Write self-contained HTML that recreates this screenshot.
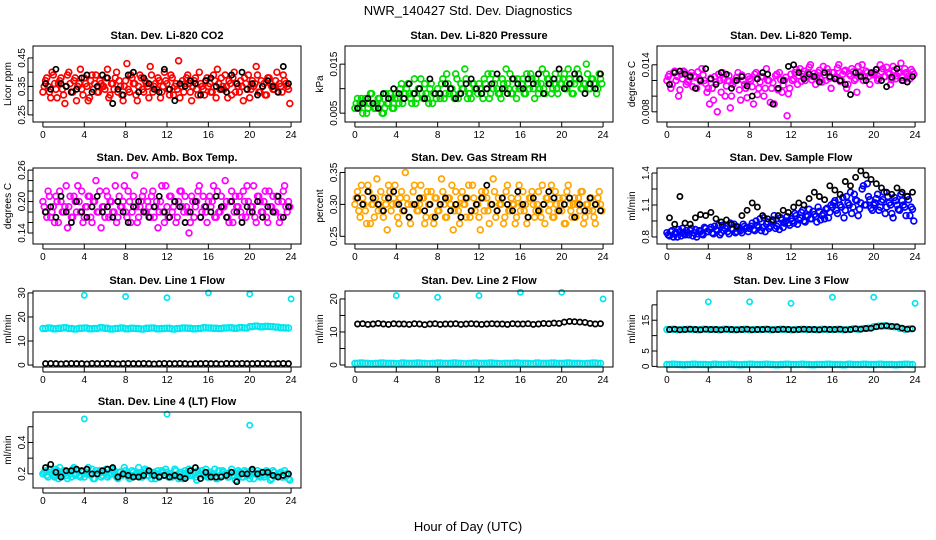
<!DOCTYPE html>
<html><head><meta charset="utf-8">
<style>
body{margin:0;background:#fff;}
svg{display:block;font-family:"Liberation Sans",Arial,sans-serif;}
</style></head>
<body>
<svg id="chart" width="936" height="540" viewBox="0 0 936 540">
<text x="468" y="15" text-anchor="middle" font-size="13">NWR_140427  Std. Dev. Diagnostics</text>
<text x="468" y="531" text-anchor="middle" font-size="13">Hour of Day (UTC)</text>
</svg>
<script>
const xTicks=[0,4,8,12,16,20,24];
const co2Red=[.35,.38,.33,.40,.36,.31,.37,.34,.29,.39,.36,.33,.38,.35,.41,.32,.36,.30,.37,.34,.39,.33,.36,.35,.38,.31,.36,.34,.40,.37,.32,.35,.43,.33,.38,.36,.30,.39,.34,.37,.35,.42,.33,.36,.38,.31,.35,.37,.34,.39,.32,.36,.44,.35,.33,.38,.36,.30,.37,.34,.40,.35,.32,.38,.36,.33,.37,.41,.34,.35,.39,.31,.36,.38,.33,.35,.37,.30,.36,.39,.34,.35,.42,.33,.37,.36,.32,.38,.35,.34,.40,.36,.33,.37,.35,.29];
const co2Red2=[.33,.37,.35,.31,.39,.34,.36,.38,.32,.35,.40,.33,.37,.30,.36,.34,.38,.35,.31,.39,.36,.33,.37,.35,.34,.41,.32,.36,.38,.33,.35,.30,.37,.34,.39,.36,.32,.35,.38,.33,.36,.31,.39,.35,.34,.37,.33,.40,.36,.32,.38,.35,.34,.31,.37,.36,.39,.33,.35,.38,.32,.36,.34,.37,.35,.33,.39,.31,.36,.38,.34,.35,.37,.32,.40,.36,.33,.35,.38,.34,.31,.37,.36,.39,.33,.35,.32,.38,.36,.34,.37,.33,.35,.39,.36,.34];
const co2Black=[.36,.34,.41,.36,.35,.33,.34,.38,.39,.33,.35,.39,.38,.29,.34,.32,.39,.40,.33,.38,.36,.34,.33,.41,.34,.30,.36,.35,.37,.36,.32,.37,.38,.35,.34,.33,.39,.36,.40,.34,.36,.32,.35,.37,.35,.33,.42,.36];
const presGreen=[.007,.006,.008,.007,.005,.007,.009,.006,.007,.008,.005,.006,.007,.009,.006,.008,.008,.010,.007,.009,.011,.008,.009,.007,.010,.012,.008,.009,.007,.011,.009,.008,.009,.011,.008,.013,.009,.010,.008,.012,.009,.010,.014,.008,.009,.011,.010,.009,.010,.008,.011,.013,.009,.010,.012,.009,.008,.011,.014,.010,.009,.012,.008,.010,.011,.009,.013,.010,.012,.008,.011,.010,.014,.009,.012,.011,.010,.013,.009,.011,.012,.010,.014,.011,.009,.012,.013,.010,.011,.015,.010,.012,.011,.009,.013,.011];
const presGreen2=[.006,.008,.007,.005,.008,.006,.009,.007,.006,.008,.007,.005,.009,.007,.008,.006,.009,.007,.011,.008,.010,.009,.007,.012,.008,.010,.009,.011,.008,.010,.007,.009,.010,.008,.012,.009,.011,.010,.009,.013,.008,.011,.010,.012,.009,.008,.011,.010,.011,.009,.012,.010,.008,.013,.011,.010,.009,.012,.010,.011,.013,.009,.010,.012,.010,.012,.009,.011,.013,.010,.012,.009,.011,.010,.013,.012,.009,.011,.010,.012,.011,.013,.010,.012,.009,.011,.014,.012,.010,.011,.013,.010,.012,.011,.010,.012];
const presBlack=[.006,.007,.008,.007,.006,.009,.008,.010,.009,.008,.011,.009,.010,.008,.012,.009,.009,.011,.010,.008,.009,.011,.012,.010,.009,.010,.011,.013,.010,.009,.012,.011,.010,.012,.011,.013,.009,.011,.012,.014,.010,.011,.013,.012,.009,.011,.010,.013];
const tempMag=[.0125,.011,.013,.012,.010,.0128,.0132,.0115,.012,.013,.0126,.011,.0122,.0135,.012,.0105,.009,.011,.0125,.008,.012,.013,.010,.012,.0085,.0115,.012,.013,.0095,.012,.011,.0125,.012,.009,.013,.011,.0125,.010,.0135,.012,.011,.009,.0128,.013,.0105,.012,.0075,.011,.012,.013,.0115,.0135,.0128,.012,.013,.014,.0125,.0115,.013,.0122,.0138,.012,.013,.011,.013,.0125,.014,.012,.0132,.011,.0128,.0135,.012,.0105,.013,.014,.0125,.013,.0115,.0128,.013,.012,.014,.0135,.0125,.013,.0115,.0138,.0122,.013,.0142,.012,.013,.0126,.0134,.0128];
const tempMag2=[.0120,.0128,.0115,.0132,.0125,.0108,.0122,.0130,.0118,.0126,.0112,.0124,.0131,.0119,.0127,.0116,.0110,.0123,.0095,.0118,.0128,.0105,.0121,.0113,.0126,.0100,.0119,.0124,.0108,.0127,.0115,.0098,.0122,.0112,.0128,.0102,.0118,.0125,.0110,.0120,.0092,.0117,.0126,.0108,.0121,.0114,.0124,.0103,.0128,.0122,.0134,.0126,.0119,.0132,.0125,.0137,.0121,.0129,.0124,.0133,.0118,.0127,.0135,.0123,.0130,.0124,.0136,.0119,.0128,.0133,.0115,.0126,.0131,.0122,.0138,.0127,.0120,.0132,.0125,.0129,.0127,.0134,.0122,.0131,.0125,.0137,.0128,.0121,.0133,.0126,.0130,.0124,.0135,.0128,.0122,.0131];
const tempBlack=[.0115,.013,.0132,.0128,.0125,.011,.012,.0135,.0122,.0115,.013,.0128,.011,.012,.0125,.0113,.010,.0122,.013,.0128,.009,.011,.012,.0138,.014,.013,.0122,.0128,.0125,.0118,.013,.0125,.0122,.012,.0115,.0102,.013,.0125,.012,.013,.0134,.012,.0112,.0124,.0135,.012,.0118,.0125];
const ambMag=[.19,.17,.21,.18,.16,.20,.22,.18,.19,.15,.21,.17,.20,.23,.18,.16,.19,.21,.17,.20,.24,.18,.15,.19,.22,.17,.20,.18,.16,.21,.19,.23,.17,.20,.18,.25,.16,.19,.21,.18,.20,.17,.22,.19,.15,.20,.18,.23,.17,.21,.19,.16,.20,.22,.18,.19,.14,.21,.17,.20,.23,.18,.19,.16,.21,.20,.17,.22,.18,.19,.24,.17,.20,.16,.21,.19,.18,.22,.17,.20,.19,.23,.16,.21,.18,.20,.17,.22,.19,.18,.21,.16,.20,.23,.18,.19];
const ambMag2=[.20,.18,.22,.17,.19,.21,.16,.20,.18,.23,.19,.17,.21,.18,.20,.22,.17,.19,.21,.16,.20,.18,.22,.19,.17,.21,.20,.18,.23,.17,.19,.20,.18,.22,.16,.21,.19,.17,.20,.22,.18,.19,.21,.17,.20,.18,.23,.16,.19,.21,.18,.20,.17,.22,.19,.21,.18,.16,.20,.19,.22,.17,.21,.18,.20,.19,.23,.17,.18,.21,.19,.20,.16,.22,.18,.19,.21,.17,.20,.23,.18,.19,.17,.21,.20,.18,.22,.16,.19,.21,.18,.20,.17,.22,.19,.20];
const ambBlack=[.18,.19,.17,.21,.18,.16,.20,.18,.17,.19,.21,.18,.19,.17,.20,.18,.16,.19,.20,.18,.17,.19,.21,.18,.17,.20,.19,.16,.18,.20,.17,.19,.18,.21,.19,.17,.20,.18,.16,.19,.18,.20,.17,.19,.18,.21,.17,.19];
const rhOrange=[.31,.29,.33,.30,.27,.32,.30,.28,.34,.30,.29,.31,.26,.32,.30,.33,.28,.31,.29,.35,.30,.27,.32,.30,.29,.33,.31,.28,.30,.32,.27,.31,.29,.34,.30,.28,.31,.33,.29,.30,.27,.32,.30,.31,.28,.33,.29,.30,.26,.31,.32,.29,.30,.34,.28,.31,.30,.27,.32,.29,.31,.30,.28,.33,.30,.29,.27,.31,.32,.28,.30,.29,.33,.27,.31,.30,.28,.32,.29,.30,.31,.27,.33,.29,.30,.28,.31,.32,.27,.30,.29,.31,.28,.30,.32,.29];
const rhOrange2=[.30,.32,.28,.31,.29,.33,.27,.30,.31,.29,.32,.28,.30,.33,.29,.31,.30,.27,.32,.29,.31,.28,.30,.33,.29,.30,.31,.27,.32,.30,.28,.31,.29,.30,.32,.28,.31,.30,.26,.32,.29,.31,.30,.28,.33,.29,.31,.30,.28,.32,.29,.31,.27,.30,.32,.29,.30,.31,.28,.33,.29,.30,.27,.31,.29,.32,.30,.28,.31,.30,.29,.32,.28,.30,.31,.29,.33,.28,.30,.31,.29,.27,.32,.30,.28,.31,.30,.29,.32,.28,.30,.31,.29,.27,.31,.30];
const rhBlack=[.31,.30,.32,.31,.30,.29,.31,.32,.30,.29,.28,.30,.31,.29,.30,.28,.30,.31,.29,.30,.28,.31,.29,.30,.31,.33,.30,.29,.31,.30,.29,.32,.30,.28,.31,.29,.30,.32,.31,.29,.30,.31,.28,.30,.29,.31,.30,.29];
const flowBlue=[.82,.85,.80,.84,.87,.81,.83,.86,.82,.88,.84,.80,.86,.83,.89,.85,.87,.84,.90,.86,.82,.91,.88,.85,.93,.87,.84,.89,.86,.92,.88,.85,.90,.87,.95,.89,.86,.98,.92,.88,.94,1.0,.90,.87,.96,.93,.99,.91,.95,1.02,.92,.98,1.05,.94,1.0,.97,1.04,.99,1.08,.96,1.02,1.06,.98,1.1,1.12,1.05,1.15,1.08,.98,1.18,1.1,1.02,1.2,1.14,1.06,1.25,1.1,1.3,1.15,1.05,1.12,1.2,1.08,1.15,1.02,1.18,1.1,.98,1.14,1.06,1.2,1.1,1.0,1.15,1.08,.95];
const flowBlue2=[.84,.81,.86,.83,.80,.85,.88,.82,.84,.86,.81,.87,.83,.85,.82,.88,.85,.89,.83,.87,.91,.84,.86,.90,.83,.88,.92,.85,.87,.84,.90,.89,.88,.93,.86,.91,.97,.89,.85,.94,.90,.96,.88,.92,.98,.89,.95,.93,.97,.93,1.0,.96,1.03,.95,.99,1.06,.97,1.01,.94,1.04,1.0,.97,1.07,1.03,1.08,1.14,1.02,1.1,1.17,1.05,1.12,1.22,1.08,1.15,1.0,1.12,1.28,1.1,1.18,1.07,1.1,1.16,1.05,1.13,1.22,1.08,1.12,1.02,1.17,1.1,1.05,1.14,1.08,1.18,1.0,1.06];
const flowBlack=[.98,.92,1.18,.93,.92,.98,1.01,1.0,1.03,.97,.94,.96,.92,.90,1.0,1.05,1.12,1.08,1.0,.97,.96,1.0,1.05,1.03,1.08,1.12,1.1,1.16,1.22,1.18,1.15,1.28,1.24,1.2,1.32,1.28,1.36,1.42,1.38,1.34,1.3,1.26,1.22,1.2,1.26,1.22,1.18,1.22];
const line1Cyan=[15.2,15.4,15.1,15.3,15.5,15.2,15.0,15.3,15.4,15.1,15.2,15.5,15.3,15.0,15.2,15.4,15.1,15.3,15.2,15.0,15.3,15.4,15.1,15.2,15.3,15.0,15.2,15.4,15.3,15.1,15.2,15.5,15.4,15.3,15.2,15.4,15.5,15.3,15.6,15.4,16.0,16.2,15.9,16.1,16.0,15.8,15.5,15.4];
const line1Black=[0.6,0.7,0.6,0.5,0.6,0.7,0.6,0.6,0.5,0.7,0.6,0.6,0.7,0.6,0.5,0.6,0.7,0.6,0.6,0.7,0.6,0.5,0.6,0.7,0.6,0.6,0.7,0.6,0.5,0.6,0.6,0.7,0.6,0.6,0.5,0.7,0.6,0.6,0.7,0.6,0.6,0.7,0.6,0.6,0.5,0.6,0.7,0.6];
const line1OutX=[4,8,12,16,20,24];
const line1OutY=[29,28.5,28,30,29.5,27.5];
const line2Black=[12.4,12.5,12.3,12.4,12.6,12.4,12.3,12.5,12.4,12.4,12.3,12.5,12.4,12.2,12.4,12.5,12.3,12.4,12.4,12.5,12.3,12.4,12.5,12.4,12.3,12.4,12.5,12.4,12.4,12.3,12.5,12.4,12.4,12.5,12.3,12.4,12.6,12.5,12.7,12.6,13.0,13.2,13.1,13.0,12.9,12.6,12.4,12.5];
const line2Cyan=[0.5,0.6,0.5,0.4,0.5,0.6,0.5,0.5,0.4,0.6,0.5,0.5,0.6,0.5,0.4,0.5,0.6,0.5,0.5,0.6,0.5,0.4,0.5,0.6,0.5,0.5,0.6,0.5,0.4,0.5,0.5,0.6,0.5,0.5,0.4,0.6,0.5,0.5,0.6,0.5,0.5,0.6,0.5,0.5,0.4,0.5,0.6,0.5];
const line2OutY=[21,20.5,21,22,22,20];
const line3Black=[12.0,12.1,11.9,12.0,12.1,12.0,11.9,12.1,12.0,12.0,11.9,12.1,12.0,11.9,12.0,12.1,11.9,12.0,12.0,12.1,11.9,12.0,12.1,12.0,11.9,12.0,12.1,12.0,12.0,11.9,12.1,12.0,12.0,12.1,11.9,12.0,12.2,12.1,12.3,12.4,12.9,13.1,13.2,13.0,12.9,12.4,12.1,12.2];
const line3Cyan=[0.6,0.7,0.6,0.5,0.6,0.7,0.6,0.6,0.5,0.7,0.6,0.6,0.7,0.6,0.5,0.6,0.7,0.6,0.6,0.7,0.6,0.5,0.6,0.7,0.6,0.6,0.7,0.6,0.5,0.6,0.6,0.7,0.6,0.6,0.5,0.7,0.6,0.6,0.7,0.6,0.6,0.7,0.6,0.6,0.5,0.6,0.7,0.6];
const line3OutY=[21,21,20.5,22.5,22.5,20.5];
const line4Cyan=[.21,.19,.23,.20,.18,.22,.24,.19,.21,.17,.20,.23,.19,.22,.18,.21,.20,.24,.19,.17,.22,.20,.18,.21,.23,.19,.20,.22,.18,.21,.19,.24,.20,.17,.22,.19,.21,.20,.18,.23,.19,.21,.20,.17,.22,.19,.21,.23,.18,.20,.19,.22,.17,.21,.20,.18,.23,.19,.21,.16,.20,.22,.19,.18,.21,.20,.23,.17,.19,.22,.20,.18,.21,.19,.16,.22,.20,.18,.21,.19,.22,.17,.20,.19,.21,.18,.22,.20,.17,.21,.19,.20,.18,.22,.19,.16];
const line4Cyan2=[.20,.22,.18,.21,.19,.23,.17,.20,.22,.19,.21,.18,.24,.20,.19,.22,.18,.21,.20,.23,.17,.20,.22,.19,.21,.18,.20,.23,.19,.17,.21,.20,.22,.18,.19,.21,.20,.24,.18,.20,.22,.19,.17,.21,.20,.18,.22,.19,.21,.20,.18,.23,.19,.20,.17,.22,.21,.19,.20,.18,.22,.20,.19,.23,.18,.21,.20,.17,.22,.19,.21,.20,.18,.23,.19,.20,.21,.18,.22,.19,.17,.21,.20,.22,.18,.19,.21,.20,.16,.22,.19,.20,.21,.18,.20,.17];
const line4Black=[.24,.26,.21,.18,.22,.22,.23,.22,.23,.20,.20,.22,.23,.24,.18,.20,.19,.18,.18,.19,.22,.19,.18,.19,.18,.19,.18,.17,.22,.24,.17,.21,.18,.18,.18,.19,.21,.15,.20,.20,.23,.20,.21,.21,.19,.18,.19,.20];
const line4OutX=[4,12,20];
const line4OutY=[0.55,0.58,0.51];

const NS="http://www.w3.org/2000/svg";
const svg=document.getElementById('chart');
function mk(tag,at,parent){const e=document.createElementNS(NS,tag);for(const k in at)e.setAttribute(k,at[k]);(parent||svg).appendChild(e);return e;}
const colL=[33,345,657],rowT=[46,168,291,412],W=268,H=76;
const BLACK='#000',CY='#00e5ee';
const panels=[
 {t:'Stan. Dev. Li-820 CO2',yl:'Licor ppm',c:0,r:0,ylim:[.225,.492],ticks:[.25,.30,.35,.40,.45],labs:['0.25','','0.35','','0.45'],ser:[[co2Red,'#ff0000',0],[co2Red2,'#ff0000',1],[co2Black,BLACK,0]]},
 {t:'Stan. Dev. Li-820 Pressure',yl:'kPa',c:1,r:0,ylim:[.0032,.0187],ticks:[.005,.010,.015],labs:['0.005','','0.015'],ser:[[presGreen,'#00dd00',0],[presGreen2,'#00dd00',1],[presBlack,BLACK,0]]},
 {t:'Stan. Dev. Li-820 Temp.',yl:'degrees C',c:2,r:0,ylim:[.0067,.0164],ticks:[.008,.010,.012,.014],labs:['0.008','','','0.014'],ser:[[tempMag,'#ff00ff',0],[tempMag2,'#ff00ff',1],[tempBlack,BLACK,0]]},
 {t:'Stan. Dev. Amb. Box Temp.',yl:'degrees C',c:0,r:1,ylim:[.119,.264],ticks:[.14,.16,.18,.20,.22,.24,.26],labs:['0.14','','','0.20','','','0.26'],ser:[[ambMag,'#ff00ff',0],[ambMag2,'#ff00ff',1],[ambBlack,BLACK,0]]},
 {t:'Stan. Dev. Gas Stream RH',yl:'percent',c:1,r:1,ylim:[.238,.357],ticks:[.25,.30,.35],labs:['0.25','0.30','0.35'],ser:[[rhOrange,'#ffa500',0],[rhOrange2,'#ffa500',1],[rhBlack,BLACK,0]]},
 {t:'Stan. Dev. Sample Flow',yl:'ml/min',c:2,r:1,ylim:[.734,1.447],ticks:[.8,.95,1.1,1.25,1.4],labs:['0.8','','1.1','','1.4'],ser:[[flowBlue,'#0000ff',0],[flowBlue2,'#0000ff',1],[flowBlack,BLACK,0]]},
 {t:'Stan. Dev. Line 1 Flow',yl:'ml/min',c:0,r:2,ylim:[-.8,30.8],ticks:[0,10,20,30],labs:['0','10','20','30'],ser:[[line1Cyan,CY,0],[line1Cyan,CY,1],[line1Black,BLACK,0]],out:[line1OutX,line1OutY]},
 {t:'Stan. Dev. Line 2 Flow',yl:'ml/min',c:1,r:2,ylim:[-.6,22.4],ticks:[0,5,10,15,20],labs:['0','','10','','20'],ser:[[line2Cyan,CY,0],[line2Cyan,CY,1],[line2Black,BLACK,0]],out:[line1OutX,line2OutY]},
 {t:'Stan. Dev. Line 3 Flow',yl:'ml/min',c:2,r:2,ylim:[-.2,24.5],ticks:[0,5,10,15,20],labs:['0','5','','15',''],ser:[[line3Black,CY,1],[line3Cyan,CY,0],[line3Cyan,CY,1],[line3Black,BLACK,0]],out:[line1OutX,line3OutY]},
 {t:'Stan. Dev. Line 4 (LT) Flow',yl:'ml/min',c:0,r:3,ylim:[.11,.594],ticks:[.2,.3,.4,.5],labs:['0.2','','0.4',''],ser:[[line4Cyan,CY,0],[line4Cyan2,CY,1],[line4Black,BLACK,0]],out:[line4OutX,line4OutY]}
];
panels.forEach((p,pi)=>{
 const L=colL[p.c],T=rowT[p.r];
 const g=mk('g',{});
 
 
 const xs=h=>L+(h+0.96)/25.92*W;
 const ys=v=>T+H-(v-p.ylim[0])/(p.ylim[1]-p.ylim[0])*H;
 const tt=mk('text',{x:L+W/2,y:T-7,'text-anchor':'middle','font-size':'11','font-weight':'bold'},g);
 tt.textContent=p.t;
 
 
 const yl=mk('text',{x:0,y:0,'text-anchor':'middle','font-size':'10',transform:`translate(${L-22},${T+H/2}) rotate(-90)`},g);
 yl.textContent=p.yl;
 
 
 const pts=mk('g',{fill:'none','stroke-width':'1.7'},g);
 
 
 p.ser.forEach(([arr,col,shift])=>{
  const n=arr.length;
  arr.forEach((v,i)=>{
   const h=(i+(shift?0.0:0.5))*24/n;
   const c=mk('circle',{cx:xs(h).toFixed(1),cy:ys(v).toFixed(1),r:col===BLACK?'2.6':'2.9',stroke:col},pts);
   
   
  });
 });
 if(p.out){p.out[0].forEach((h,i)=>{
  const c=mk('circle',{cx:xs(h).toFixed(1),cy:ys(p.out[1][i]).toFixed(1),r:'2.6',stroke:CY},pts);
  
  
 });}
 const box=mk('rect',{x:L,y:T,width:W,height:H,fill:'none',stroke:'#000','stroke-width':'1'},g);
 
 
 xTicks.forEach(h=>{
  const x=xs(h);
  mk('line',{x1:x,x2:x,y1:T+H,y2:T+H+5,stroke:'#000'},g);
  const t=mk('text',{x:x,y:T+H+16,'text-anchor':'middle','font-size':'10'},g);
  t.textContent=h;
  
  
 });
 mk('line',{x1:xs(0),x2:xs(24),y1:T+H+5,y2:T+H+5,stroke:'#000'},g);
 p.ticks.forEach((v,i)=>{
  const y=ys(v);
  mk('line',{x1:L-5,x2:L,y1:y,y2:y,stroke:'#000'},g);
  if(p.labs[i]){
   const t=mk('text',{x:0,y:0,'text-anchor':'middle','font-size':'10',transform:`translate(${L-8},${y}) rotate(-90)`},g);
   t.textContent=p.labs[i];
   
   
  }
 });
 mk('line',{x1:L-5,x2:L-5,y1:ys(p.ticks[0]),y2:ys(p.ticks[p.ticks.length-1]),stroke:'#000'},g);
});
</script>
</body></html>
